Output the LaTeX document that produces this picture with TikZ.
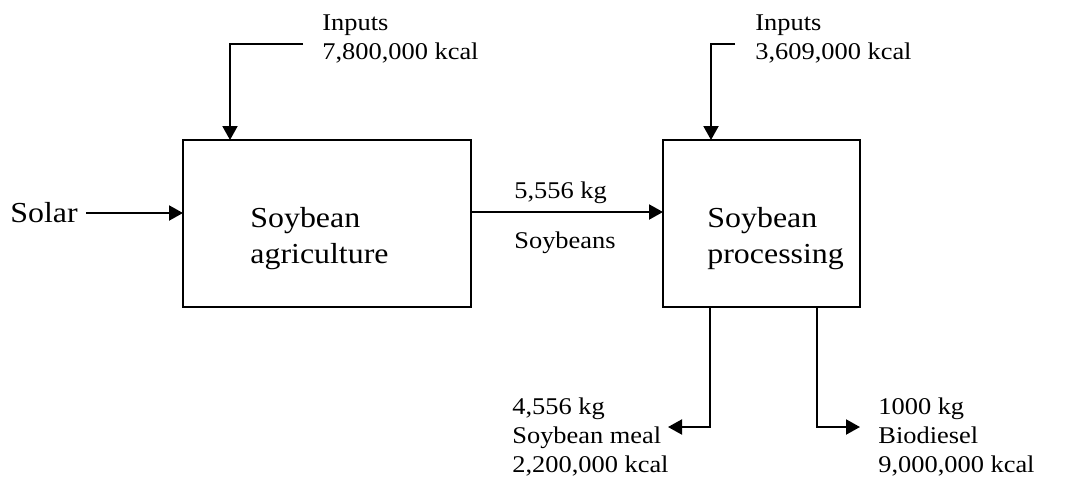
\documentclass[tikz,border=0pt]{standalone}
\usepackage{fontspec}
\setmainfont[FakeStretch=1.1]{Liberation Serif}
\usetikzlibrary{arrows.meta}
\begin{document}
\begin{tikzpicture}[x=0.5pt,y=-0.5pt,
  procbox/.style={draw,line width=1pt,inner sep=0pt},
  arr/.style={line width=1pt,-{Triangle[length=7pt,width=7.5pt]}},
  small/.style={inner sep=0pt,anchor=base west,align=left,font=\fontsize{12pt}{14.5pt}\selectfont},
  big/.style={inner sep=0pt,anchor=base west,align=left,font=\fontsize{14.5pt}{18pt}\selectfont}]
\useasboundingbox (0,0) rectangle (1085,483);
% boxes
\node[procbox,minimum width=144pt,minimum height=83.5pt] (agri) at (327,223.5) {};
\node[procbox,minimum width=98.5pt,minimum height=83.5pt] (proc) at (761.5,223.5) {};
\node[big] (agritxt) at (250,263) {Soybean\\agriculture};
\node[big] (proctxt) at (707,263) {Soybean\\processing};
% solar
\node[big] (solar) at (10,222) {Solar};
\coordinate (solS) at (86,213);
\coordinate (solE) at (183,213);
\draw[arr] (solS) -- (solE);
% inputs
\node[small] (in1) at (322,59) {Inputs\\7,800,000 kcal};
\node[small] (in2) at (755,59) {Inputs\\3,609,000 kcal};
\coordinate (in1S) at (303,44);
\coordinate (in1E) at (230,140);
\coordinate (in2S) at (735,44);
\coordinate (in2E) at (711,140);
\draw[arr] (in1S) -| (in1E);
\draw[arr] (in2S) -| (in2E);
% soybeans
\coordinate (sbS) at (471,212);
\coordinate (sbE) at (663,212);
\draw[arr] (sbS) -- (sbE);
\node[small] (sbkg) at (514,198) {5,556 kg};
\node[small] (sbname) at (514,248) {Soybeans};
% outputs
\coordinate (o1S) at (710,307);
\coordinate (o1E) at (668,427);
\coordinate (o2S) at (817,307);
\coordinate (o2E) at (860,427);
\draw[arr] (o1S) |- (o1E);
\draw[arr] (o2S) |- (o2E);
\node[small] (meal) at (512,472) {4,556 kg\\Soybean meal\\2,200,000 kcal};
\node[small] (bio) at (878,472) {1000 kg\\Biodiesel\\9,000,000 kcal};
\end{tikzpicture}
\end{document}
